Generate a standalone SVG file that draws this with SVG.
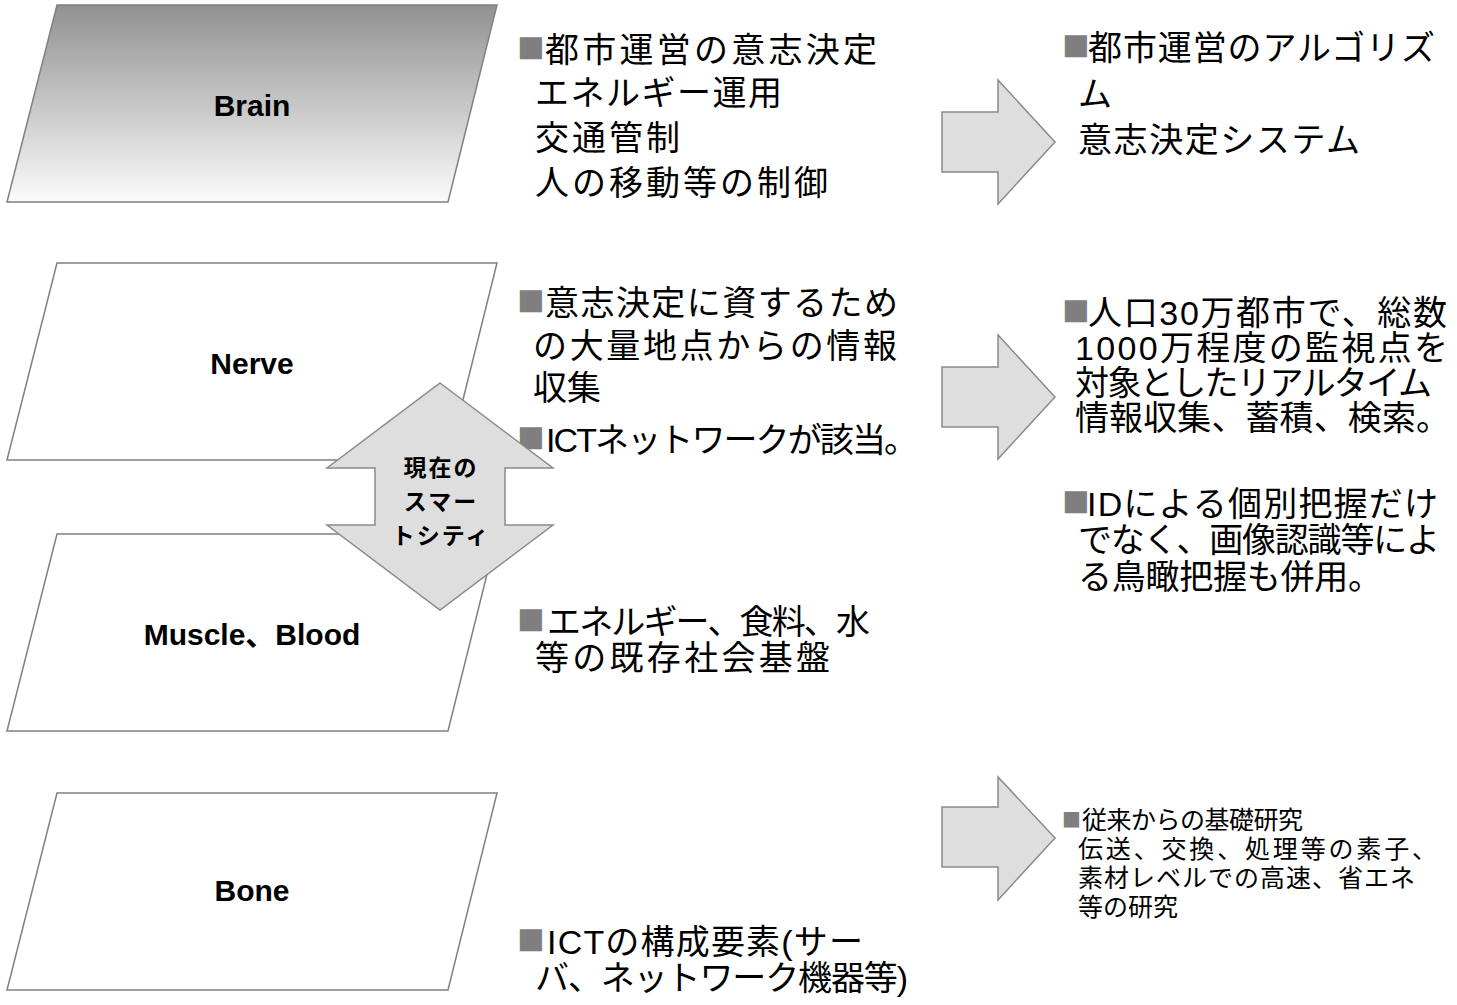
<svg xmlns="http://www.w3.org/2000/svg" width="1457" height="1005" viewBox="0 0 1457 1005">
<defs>
<linearGradient id="gBrain" x1="0" y1="0" x2="0" y2="1">
<stop offset="0" stop-color="#919191"/>
<stop offset="1" stop-color="#fbfbfb"/>
</linearGradient>
<style>
.para{fill:#ffffff;stroke:#808080;stroke-width:1.5}
.blk{fill:#dedede;stroke:#8a8a8a;stroke-width:1.5}
.lbl{font-family:"Liberation Sans","Noto Sans CJK JP",sans-serif;font-weight:bold;font-size:30px;fill:#000;text-anchor:middle}
.t{font-family:"Liberation Sans","Noto Sans CJK JP",sans-serif;font-size:34px;fill:#000}
.s{font-family:"Liberation Sans","Noto Sans CJK JP",sans-serif;font-size:25px;fill:#000}
.b{font-family:"DejaVu Sans","Noto Sans CJK JP",sans-serif;fill:#7f7f7f}
.bl{font-size:29px}
.bs{font-size:20px}
.dl{font-family:"Noto Sans CJK JP",sans-serif;font-weight:bold;font-size:23px;fill:#000;text-anchor:middle;letter-spacing:2px}
</style>
</defs>
<rect width="1457" height="1005" fill="#ffffff"/>

<g id="brain">
<path d="M57,5 L497,5 L448,202 L7,202 Z" class="para" style="fill:url(#gBrain)"/>
<text class="lbl" x="252" y="116">Brain</text>
</g>
<g id="nerve">
<path d="M57,263 L497,263 L448,460 L7,460 Z" class="para"/>
<text class="lbl" x="252" y="374">Nerve</text>
</g>
<g id="muscle">
<path d="M57,534 L497,534 L448,731 L7,731 Z" class="para"/>
<text class="lbl" x="252" y="645">Muscle、Blood</text>
</g>
<g id="bone">
<path d="M57,793 L497,793 L448,990 L7,990 Z" class="para"/>
<text class="lbl" x="252" y="901">Bone</text>
</g>

<g id="brain-desc">
<text class="b bl" x="517" y="56">■</text>
<text class="t" x="545" y="62" textLength="332" lengthAdjust="spacing">都市運営の意志決定</text>
<text class="t" x="535" y="105" textLength="247" lengthAdjust="spacing">エネルギー運用</text>
<text class="t" x="535" y="150" textLength="145" lengthAdjust="spacing">交通管制</text>
<text class="t" x="535" y="195" textLength="293" lengthAdjust="spacing">人の移動等の制御</text>
</g>
<g id="nerve-desc">
<text class="b bl" x="517" y="309">■</text>
<text class="t" x="545" y="315" textLength="353" lengthAdjust="spacing">意志決定に資するため</text>
<text class="t" x="533" y="358" textLength="364" lengthAdjust="spacing">の大量地点からの情報</text>
<text class="t" x="533" y="400">収集</text>
<text class="b bl" x="517" y="446">■</text>
<text class="t" x="546" y="452" textLength="372" lengthAdjust="spacing">ICTネットワークが該当。</text>
</g>
<g id="muscle-desc">
<text class="b bl" x="517" y="628">■</text>
<text class="t" x="547" y="634" textLength="323" lengthAdjust="spacing">エネルギー、食料、水</text>
<text class="t" x="535" y="670" textLength="295" lengthAdjust="spacing">等の既存社会基盤</text>
</g>
<g id="bone-desc">
<text class="b bl" x="517" y="948">■</text>
<text class="t" x="547" y="954" textLength="316" lengthAdjust="spacing">ICTの構成要素(サー</text>
<text class="t" x="535" y="990" textLength="373" lengthAdjust="spacing">バ、ネットワーク機器等)</text>
</g>

<g id="brain-future">
<text class="b bl" x="1062" y="54">■</text>
<text class="t" x="1088" y="60" textLength="347" lengthAdjust="spacing">都市運営のアルゴリズ</text>
<text class="t" x="1078" y="106">ム</text>
<text class="t" x="1078" y="152" textLength="282" lengthAdjust="spacing">意志決定システム</text>
</g>
<g id="nerve-future">
<text class="b bl" x="1062" y="319">■</text>
<text class="t" x="1088" y="325" textLength="359" lengthAdjust="spacing">人口30万都市で、総数</text>
<text class="t" x="1075" y="360" textLength="373" lengthAdjust="spacing">1000万程度の監視点を</text>
<text class="t" x="1075" y="395" textLength="357" lengthAdjust="spacing">対象としたリアルタイム</text>
<text class="t" x="1075" y="430" textLength="375" lengthAdjust="spacing">情報収集、蓄積、検索。</text>
<text class="b bl" x="1062" y="510">■</text>
<text class="t" x="1087" y="516" textLength="351" lengthAdjust="spacing">IDによる個別把握だけ</text>
<text class="t" x="1078" y="552" textLength="362" lengthAdjust="spacing">でなく、画像認識等によ</text>
<text class="t" x="1078" y="589" textLength="304" lengthAdjust="spacing">る鳥瞰把握も併用。</text>
</g>
<g id="bone-future">
<text class="b bs" x="1062" y="825">■</text>
<text class="s" x="1082" y="829" textLength="221" lengthAdjust="spacing">従来からの基礎研究</text>
<text class="s" x="1078" y="858" textLength="359" lengthAdjust="spacing">伝送、交換、処理等の素子、</text>
<text class="s" x="1078" y="887" textLength="337" lengthAdjust="spacing">素材レベルでの高速、省エネ</text>
<text class="s" x="1078" y="916" textLength="100" lengthAdjust="spacing">等の研究</text>
</g>

<g id="connectors">
<path class="blk" d="M942,112 L998,112 L998,80 L1055,142 L998,204 L998,172 L942,172 Z"/>
<path class="blk" d="M942,367 L998,367 L998,335 L1055,397 L998,459 L998,427 L942,427 Z"/>
<path class="blk" d="M942,807 L998,807 L998,777 L1055,838 L998,900 L998,867 L942,867 Z"/>
</g>

<g id="current-smartcity">
<path class="blk" d="M440,383 L553,468 L505,468 L505,525 L553,525 L440,610 L327,525 L375,525 L375,468 L327,468 Z"/>
<text class="dl" x="441" y="476">現在の</text>
<text class="dl" x="441" y="510">スマー</text>
<text class="dl" x="441" y="544">トシティ</text>
</g>
</svg>
